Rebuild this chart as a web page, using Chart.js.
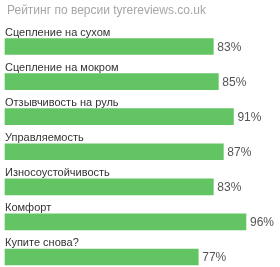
<!DOCTYPE html>
<html>
<head>
<meta charset="utf-8">
<script src="https://cdn.jsdelivr.net/npm/chart.js@4"></script>
<style>
  html, body { margin: 0; padding: 0; background: #fff; }
  #wrap { width: 280px; height: 267px; }
</style>
</head>
<body>
<div id="wrap"><canvas id="rating"></canvas></div>
<script>
const categories = [
  "Сцепление на сухом",
  "Сцепление на мокром",
  "Отзывчивость на руль",
  "Управляемость",
  "Износоустойчивость",
  "Комфорт",
  "Купите снова?",
];

const ratings = [83, 85, 91, 87, 83, 96, 77];

const titleText = "Рейтинг по версии tyrereviews.co.uk";

const FONT = "'Liberation Sans', Arial, sans-serif";

// title, labels above bars and percents after them
const barLabels = {
  id: "barLabels",
  afterDatasetsDraw(chart) {
    const ctx = chart.ctx;
    const meta = chart.getDatasetMeta(0);
    ctx.save();
    ctx.textAlign = "left";
    ctx.textBaseline = "alphabetic";
    ctx.font = "12px " + FONT;
    ctx.fillStyle = "#a6a6a6";
    ctx.fillText(titleText, 7, 14);

    meta.data.forEach((bar, i) => {
      const top = bar.y - bar.height / 2;
      ctx.font = "11px " + FONT;
      ctx.fillStyle = "#333";
      ctx.textBaseline = "alphabetic";
      ctx.fillText(chart.data.labels[i], bar.base, top - 3);
      ctx.font = "12px " + FONT;
      ctx.fillStyle = "#555";
      ctx.textBaseline = "middle";
      ctx.fillText(chart.data.datasets[0].data[i] + "%", bar.x + 4, bar.y + 1);
    });
    ctx.restore();
  },
};

const config = {
  type: "bar",
  data: {
    labels: categories,
    datasets: [
      {
        data: ratings,
        backgroundColor: "#62c462",
        barThickness: 16,
        clip: false,
      },
    ],
  },
  options: {
    indexAxis: "y",
    responsive: true,
    maintainAspectRatio: false,
    animation: false,
    layout: {
      padding: { left: 5, right: 24, top: 46.5, bottom: 10 },
    },
    scales: {
      x: { display: false, min: 0, max: 100 },
      y: { display: false, offset: false },
    },
    plugins: {
      legend: { display: false },
      tooltip: { enabled: false },
      title: { display: false },
    },
  },
  plugins: [barLabels],
};

new Chart(document.getElementById("rating"), config);
</script>
</body>
</html>
